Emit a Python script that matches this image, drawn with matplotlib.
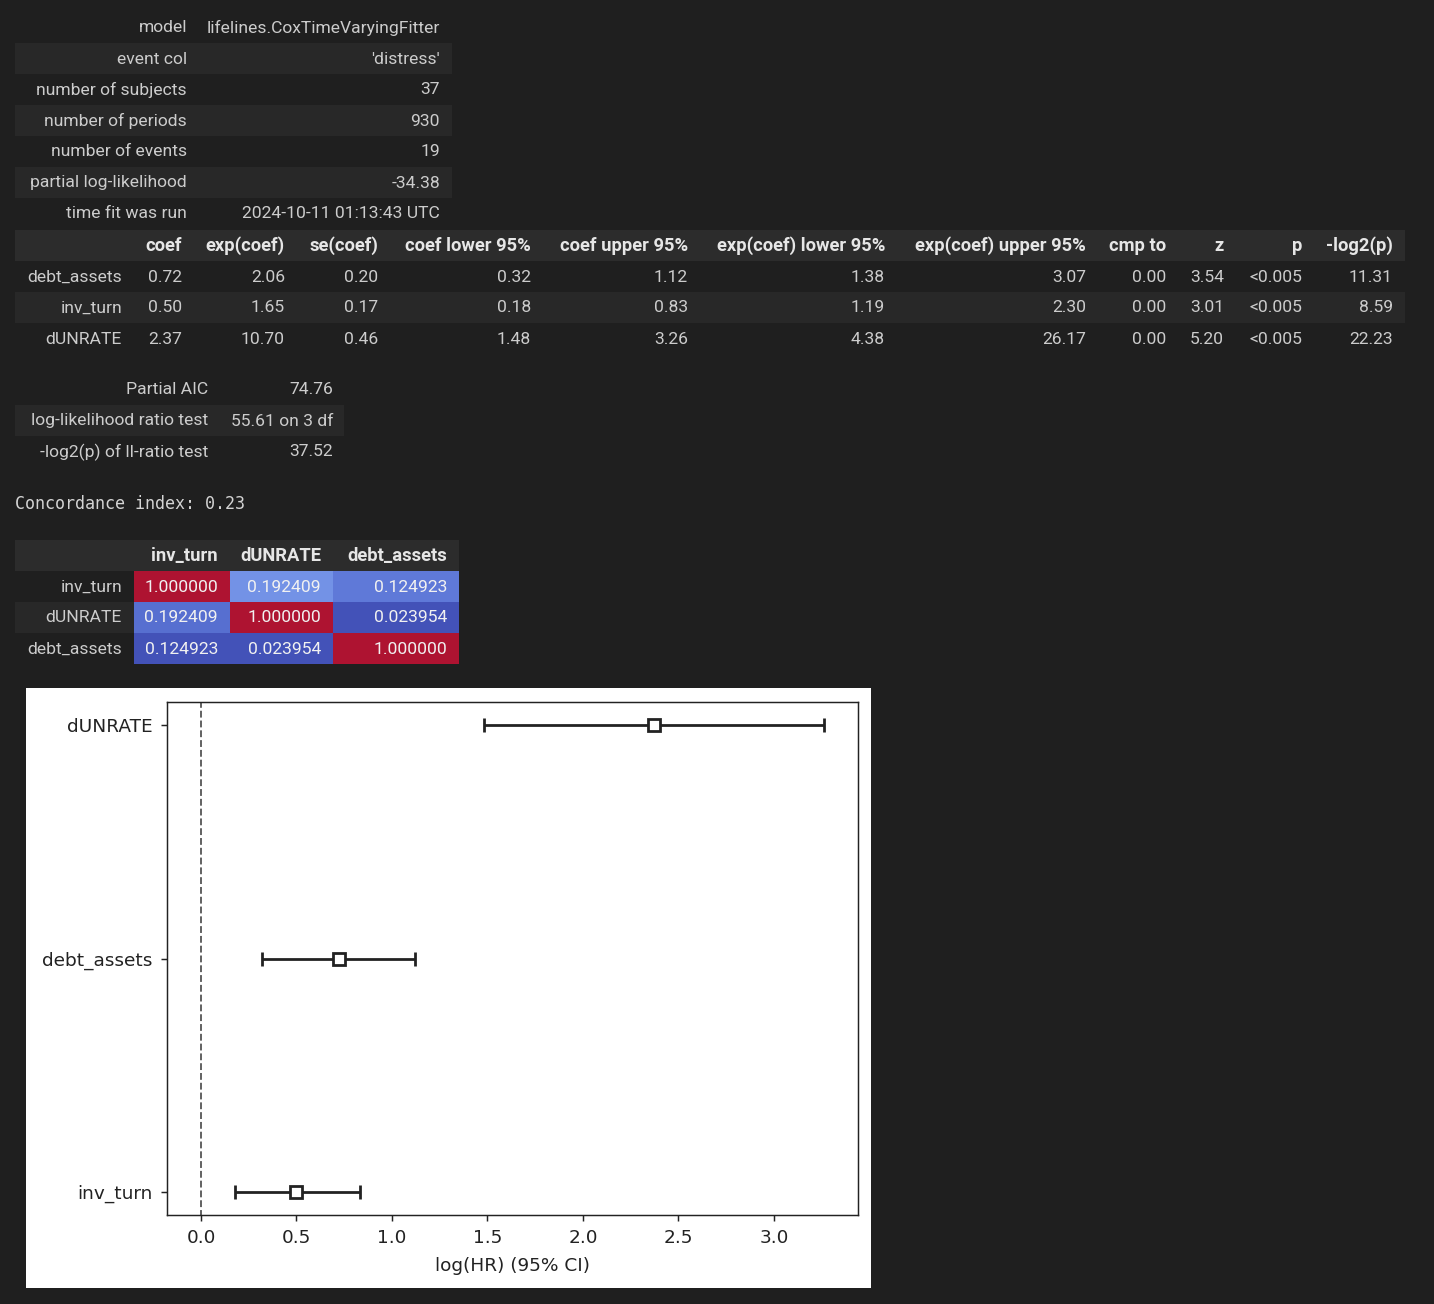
import numpy as np
import matplotlib.pyplot as plt
from matplotlib.patches import Rectangle
from matplotlib import colors as mcolors

# ---- data ----
summary_labels = ['model', 'event col', 'number of subjects', 'number of periods',
                  'number of events', 'partial log-likelihood', 'time fit was run']
summary_values = ['lifelines.CoxTimeVaryingFitter', "'distress'", '37', '930',
                  '19', '-34.38', '2024-10-11 01:13:43 UTC']

coef_cols = ['coef', 'exp(coef)', 'se(coef)', 'coef lower 95%', 'coef upper 95%',
             'exp(coef) lower 95%', 'exp(coef) upper 95%', 'cmp to', 'z', 'p', '-log2(p)']
coef_rows = ['debt_assets', 'inv_turn', 'dUNRATE']
coef = [0.72, 0.50, 2.37]
exp_coef = [2.06, 1.65, 10.70]
se_coef = [0.20, 0.17, 0.46]
coef_lower = [0.32, 0.18, 1.48]
coef_upper = [1.12, 0.83, 3.26]
exp_lower = [1.38, 1.19, 4.38]
exp_upper = [3.07, 2.30, 26.17]
cmp_to = [0.00, 0.00, 0.00]
z_vals = [3.54, 3.01, 5.20]
p_vals = ['<0.005', '<0.005', '<0.005']
log2p = [11.31, 8.59, 22.23]

fit_labels = ['Partial AIC', 'log-likelihood ratio test', '-log2(p) of ll-ratio test']
fit_values = ['74.76', '55.61 on 3 df', '37.52']

concordance = 0.23

corr_names = ['inv_turn', 'dUNRATE', 'debt_assets']
corr = np.array([[1.000000, 0.192409, 0.124923],
                 [0.192409, 1.000000, 0.023954],
                 [0.124923, 0.023954, 1.000000]])

# forest plot order (bottom to top)
forest_names = ['inv_turn', 'debt_assets', 'dUNRATE']
forest_coef = [0.50, 0.72, 2.37]
forest_lo = [0.18, 0.32, 1.48]
forest_hi = [0.83, 1.12, 3.26]

# ---- style ----
BG = '#1f1f1f'
STRIPE = '#282828'
HEAD = '#2c2c2c'
TXT = '#cccccc'
HTXT = '#e6e6e6'
FONT = 'Roboto'
FS = 12.6
HFS = 13.2

W, H = 1434, 1304
fig = plt.figure(figsize=(W / 100, H / 100), dpi=100, facecolor=BG)
bg = fig.add_axes([0, 0, 1, 1])
bg.set_xlim(0, W)
bg.set_ylim(H, 0)
bg.axis('off')
bg.set_facecolor(BG)


def band(x0, x1, yc, color, h=31):
    bg.add_patch(Rectangle((x0, yc - h / 2), x1 - x0, h, color=color, lw=0, zorder=0))


def txt(x, y, s, bold=False, color=TXT, ha='right'):
    bg.text(x, y + 1, s, ha=ha, va='center', fontsize=HFS if bold else FS, family=FONT,
            color=color, fontweight='bold' if bold else 'normal', zorder=3)


# summary table
for i, (lab, val) in enumerate(zip(summary_labels, summary_values)):
    y = 27 + 31 * i
    if i % 2 == 1:
        band(15, 452, y, STRIPE)
    txt(187, y, lab)
    txt(440, y, val)

# coefficient table
col_right = [182, 285, 378, 531, 688, 885, 1086, 1166, 1224, 1302, 1393]
yh = 245
band(15, 1405, yh, HEAD)
for c, x in zip(coef_cols, col_right):
    txt(x, yh, c, bold=True, color=HTXT)
columns = [coef, exp_coef, se_coef, coef_lower, coef_upper, exp_lower, exp_upper,
           cmp_to, z_vals, p_vals, log2p]
for r, name in enumerate(coef_rows):
    y = 276 + 31 * r
    if r % 2 == 1:
        band(15, 1405, y, STRIPE)
    txt(122, y, name)
    for col, x in zip(columns, col_right):
        v = col[r]
        txt(x, y, v if isinstance(v, str) else f'{v:.2f}')

# fit statistics
for i, (lab, val) in enumerate(zip(fit_labels, fit_values)):
    y = 389 + 31 * i
    if i % 2 == 1:
        band(15, 344, y, STRIPE)
    txt(208, y, lab)
    txt(333, y, val)

bg.text(15, 504, f'Concordance index: {concordance:.2f}', ha='left', va='center',
        fontsize=12, family='DejaVu Sans Mono', color='#d4d4d4')

# correlation table (pandas background_gradient, column-wise coolwarm)
cell_x = [134, 230, 333, 459]
band(15, 459, 555, HEAD)
for j, name in enumerate(corr_names):
    txt(cell_x[j + 1] - 12, 555, name, bold=True, color=HTXT)
cmap = plt.get_cmap('coolwarm')
for i, name in enumerate(corr_names):
    y = 586 + 31 * i
    if i % 2 == 1:
        band(15, 134, y, STRIPE)
    txt(122, y, name)
    for j in range(3):
        col = corr[:, j]
        norm = mcolors.Normalize(col.min(), col.max())
        rgb = np.array(cmap(norm(corr[i, j]))[:3])
        rgb = rgb * 0.88 + 0.5 * 0.12
        bg.add_patch(Rectangle((cell_x[j], y - 15.5), cell_x[j + 1] - cell_x[j], 31,
                               color=rgb, lw=0, zorder=1))
        txt(cell_x[j + 1] - 12, y, f'{corr[i, j]:.6f}', color='#f1f1f1')

# forest plot
bg.add_patch(Rectangle((26, 688), 871 - 26, 1288 - 688, color='white', lw=0, zorder=0))
ax = fig.add_axes([167 / W, (H - 1215) / H, (858 - 167) / W, (1215 - 702) / H])
ax.set_facecolor('white')
s = 1.33
yy = np.arange(len(forest_names))
err = [np.array(forest_coef) - np.array(forest_lo), np.array(forest_hi) - np.array(forest_coef)]
ax.errorbar(forest_coef, yy, xerr=err, fmt='s', color='black', ecolor='#222222',
            markerfacecolor='white', markeredgecolor='#222222', markersize=9,
            markeredgewidth=2, elinewidth=2, capsize=5, capthick=2)
ylim = ax.get_ylim()
ax.vlines(0, -2, len(forest_names) + 1, linestyles='dashed', linewidths=1 * s,
          alpha=0.65, color='k')
ax.set_ylim(ylim)
ax.set_xlim(-0.178, 3.44)
ax.set_yticks(yy)
ax.set_yticklabels(forest_names)
ax.set_xlabel('log(HR) (95% CI)', fontsize=10 * s, color='#222222', labelpad=7)
ax.tick_params(labelsize=10 * s, length=3.5 * s, width=0.8 * s, colors='#222222')
ax.tick_params(axis='x', pad=5.5)
ax.tick_params(axis='y', pad=6)
for sp in ax.spines.values():
    sp.set_linewidth(0.8 * s)
    sp.set_color('#222222')

fig.savefig('out.png', dpi=100, facecolor=BG)
